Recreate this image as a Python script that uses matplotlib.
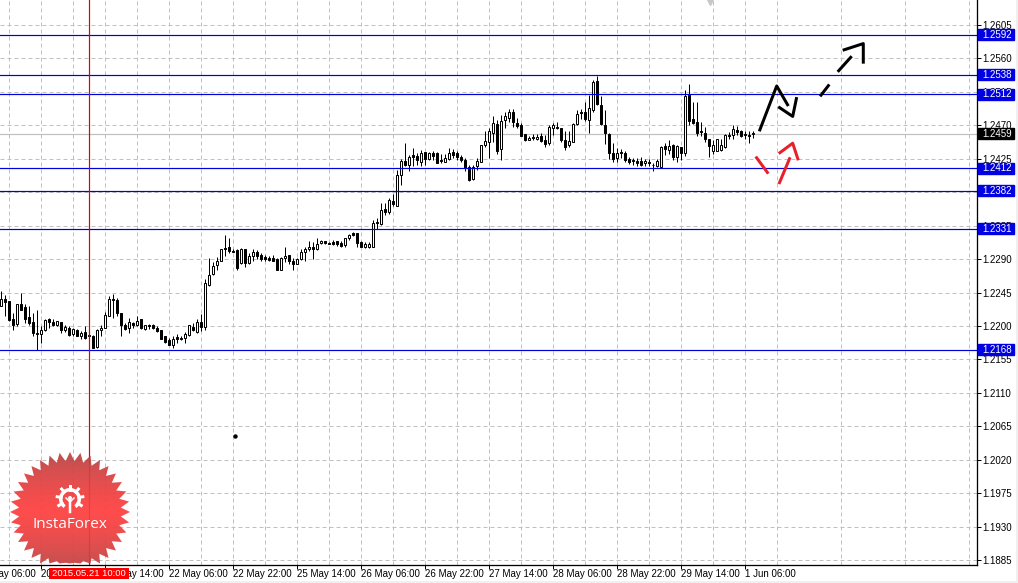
import numpy as np
import matplotlib
matplotlib.use("Agg")
import matplotlib.pyplot as plt
from matplotlib.patches import Rectangle, Polygon, Circle, Wedge
from matplotlib.transforms import blended_transform_factory

plt.rcParams['font.family'] = ['Liberation Sans', 'DejaVu Sans']

# hourly candles, prices in pips (1/10000)
opens = [12227,12237,12234,12210,12203,12229,12225,12212,12206,12191,
         12189,12194,12209,12206,12201,12206,12194,12197,12189,12194,
         12186,12192,12188,12187,12172,12194,12197,12214,12237,12235,
         12217,12202,12198,12204,12202,12209,12196,12201,12201,12198,
         12194,12186,12181,12174,12185,12184,12184,12188,12199,12192,
         12206,12199,12255,12270,12282,12288,12305,12306,12301,12302,
         12285,12304,12285,12294,12299,12295,12293,12291,12291,12290,
         12276,12292,12295,12288,12284,12290,12300,12304,12307,12303,
         12312,12314,12312,12313,12314,12312,12309,12319,12325,12325,
         12313,12306,12307,12306,12340,12337,12357,12353,12368,12362,
         12403,12422,12417,12430,12429,12421,12434,12425,12433,12433,
         12423,12421,12425,12434,12433,12427,12424,12414,12398,12415,
         12421,12444,12447,12460,12472,12438,12477,12480,12488,12473,
         12471,12458,12450,12454,12451,12455,12450,12446,12466,12468,
         12467,12450,12443,12447,12472,12488,12488,12477,12491,12529,
         12498,12471,12459,12433,12426,12434,12433,12425,12424,12422,
         12422,12419,12421,12417,12415,12414,12442,12437,12443,12427,
         12441,12433,12511,12478,12475,12462,12460,12452,12435,12436,
         12437,12441,12457,12457,12464,12463,12458,12457,12460]
highs = [12247,12242,12234,12218,12229,12245,12229,12227,12218,12221,
         12200,12210,12211,12210,12207,12206,12201,12200,12197,12196,
         12193,12200,12188,12188,12196,12202,12219,12241,12243,12238,
         12217,12204,12211,12206,12213,12210,12202,12203,12203,12200,
         12194,12187,12184,12186,12189,12187,12192,12202,12204,12209,
         12216,12263,12292,12286,12293,12304,12322,12318,12304,12304,
         12305,12304,12298,12304,12302,12298,12295,12294,12295,12291,
         12293,12307,12295,12291,12291,12303,12306,12314,12313,12319,
         12316,12315,12313,12316,12315,12314,12319,12324,12327,12325,
         12315,12313,12313,12342,12345,12365,12365,12372,12377,12410,
         12425,12446,12430,12439,12433,12437,12434,12434,12435,12434,
         12432,12431,12439,12438,12435,12430,12426,12417,12417,12426,
         12444,12462,12466,12483,12477,12484,12488,12492,12492,12480,
         12473,12459,12456,12459,12459,12460,12457,12471,12473,12475,
         12467,12462,12462,12473,12491,12492,12502,12511,12531,12536,
         12509,12491,12460,12446,12439,12438,12435,12427,12426,12426,
         12427,12425,12425,12419,12425,12442,12446,12450,12445,12443,
         12441,12517,12526,12502,12502,12475,12468,12452,12450,12452,
         12451,12458,12461,12470,12469,12464,12463,12463,12462]
lows = [12227,12213,12207,12195,12200,12221,12204,12202,12186,12168,
        12177,12193,12197,12200,12200,12190,12192,12186,12187,12186,
        12182,12183,12186,12170,12171,12187,12197,12213,12211,12213,
        12187,12194,12191,12197,12200,12196,12195,12196,12196,12192,
        12182,12177,12174,12171,12177,12181,12177,12187,12193,12191,
        12193,12195,12254,12269,12276,12287,12294,12298,12299,12276,
        12284,12280,12283,12288,12290,12288,12288,12288,12287,12276,
        12276,12286,12283,12276,12283,12289,12288,12301,12290,12302,
        12311,12311,12310,12309,12308,12307,12307,12316,12321,12307,
        12306,12305,12305,12306,12331,12336,12349,12351,12362,12361,
        12390,12415,12409,12415,12417,12415,12417,12424,12423,12420,
        12420,12421,12424,12426,12423,12421,12408,12395,12397,12410,
        12421,12441,12426,12448,12432,12423,12467,12475,12468,12467,
        12455,12449,12450,12450,12450,12448,12441,12444,12457,12465,
        12448,12437,12441,12447,12471,12478,12476,12460,12488,12497,
        12471,12445,12425,12421,12421,12426,12421,12418,12417,12415,
        12415,12415,12415,12409,12414,12412,12430,12432,12424,12421,
        12424,12429,12470,12472,12455,12456,12448,12428,12431,12435,
        12436,12440,12451,12452,12457,12454,12452,12446,12453]
closes = [12237,12233,12208,12201,12229,12222,12209,12204,12190,12189,
          12195,12208,12205,12201,12207,12194,12199,12188,12196,12186,
          12191,12184,12186,12170,12195,12197,12215,12236,12235,12217,
          12201,12196,12205,12201,12207,12197,12201,12200,12198,12193,
          12183,12178,12175,12183,12183,12183,12189,12201,12194,12206,
          12199,12258,12269,12281,12288,12303,12304,12301,12300,12278,
          12304,12285,12294,12299,12294,12290,12290,12289,12288,12276,
          12292,12294,12287,12284,12290,12299,12304,12307,12304,12311,
          12315,12312,12311,12310,12311,12308,12319,12322,12323,12312,
          12307,12311,12311,12339,12338,12356,12353,12369,12364,12403,
          12422,12416,12428,12428,12423,12433,12425,12433,12429,12420,
          12422,12426,12433,12430,12428,12424,12413,12396,12414,12422,
          12443,12449,12462,12473,12436,12476,12482,12488,12474,12469,
          12456,12450,12453,12453,12454,12449,12445,12468,12470,12467,
          12450,12441,12449,12472,12485,12486,12478,12493,12528,12499,
          12472,12460,12433,12425,12433,12433,12423,12421,12422,12420,
          12416,12422,12419,12416,12422,12441,12438,12442,12427,12442,
          12433,12509,12476,12473,12460,12461,12452,12442,12443,12452,
          12443,12457,12455,12465,12461,12456,12457,12456,12459]

levels = [1.2592, 1.2538, 1.2512, 1.2412, 1.2382, 1.2331, 1.2168]
last_price = 1.2459
price_ticks = [1.1885, 1.1930, 1.1975, 1.2020, 1.2065, 1.2110, 1.2155, 1.2200, 1.2245,
               1.2290, 1.2335, 1.2380, 1.2425, 1.2470, 1.2515, 1.2560, 1.2605]
time_labels = ["20 May 06:00", "20 May 22:00", "21 May 14:00", "22 May 06:00", "22 May 22:00",
               "25 May 14:00", "26 May 06:00", "26 May 22:00", "27 May 14:00", "28 May 06:00",
               "28 May 22:00", "29 May 14:00", "1 Jun 06:00"]
cursor_bar = 22
cursor_label = "2015.05.21 10:00"

# hand drawn forecast strokes: (bar, price in pips)
black_strokes = [[(189.5, 12462), (193.85, 12523), (196.75, 12496)],
                 [(194.25, 12495), (197.85, 12482), (198.85, 12508)],
                 [(204.7, 12509), (207.0, 12525)],
                 [(209.1, 12542), (212.6, 12563)],
                 [(210.35, 12571), (215.5, 12580), (215.5, 12553)]]
red_strokes = [[(188.6, 12428), (191.75, 12405)],
               [(194.4, 12391), (197.2, 12427)],
               [(194.35, 12432), (197.85, 12446), (199.25, 12423)]]

W, H = 1018, 583
PX = 1 / 100 * 72  # one pixel in points
axis_x, axis_y = 976.7, 564.5
bar_px = 4.0
y_scale = 7433.0  # pixels per 1.0 of price

fig = plt.figure(figsize=(W / 100, H / 100), dpi=100, facecolor='white')
ax = fig.add_axes([0, (H - axis_y) / H, axis_x / W, axis_y / H])
ax.set_xlim(-1.3 / bar_px, (axis_x - 1.3) / bar_px)
ax.set_ylim(1.2605 - (axis_y - 25) / y_scale, 1.2605 + 25 / y_scale)

o = np.array(opens) / 1e4
h = np.array(highs) / 1e4
l = np.array(lows) / 1e4
c = np.array(closes) / 1e4
x = np.arange(len(o))

#---------------- grid, ticks
label_bars = np.arange(-6, 190, 16)
major = label_bars[1:]
ax.set_xticks(major)
ax.set_xticks(np.arange(2, 244, 16), minor=True)
ax.set_xticklabels([])
ax.tick_params(axis='x', which='major', length=4 * PX, width=PX, color='black')
ax.tick_params(axis='x', which='minor', length=0)
ax.yaxis.tick_right()
ax.set_yticks(price_ticks)
ax.set_yticklabels(["%.4f" % p for p in price_ticks], fontsize=7, color='black')
ax.tick_params(axis='y', length=4 * PX, width=PX, pad=1, color='black')
ax.grid(True, which='both', color='#c0c0c0', lw=PX, ls=(0, (4, 3)), zorder=0)
ax.set_axisbelow(True)
for s in ['top', 'left']:
    ax.spines[s].set_visible(False)
for s in ['right', 'bottom']:
    ax.spines[s].set_linewidth(1.3 * PX)

xform = blended_transform_factory(ax.transData, ax.transAxes)
for b, t in zip(label_bars, time_labels):
    ax.text(b - 0.1, -9.5 / axis_y, t, transform=xform, fontsize=7, ha='left', va='center', clip_on=False)

#---------------- candles
ax.axhline(last_price, color='#c0c0c0', lw=PX * 1.2, zorder=1)
ax.vlines(x, l, h, color='black', lw=PX, zorder=2)
up = c >= o
ax.bar(x[up], (c - o)[up], bottom=o[up], width=0.55, facecolor='white', edgecolor='black', lw=PX, zorder=3)
ax.bar(x[~up], (o - c)[~up], bottom=c[~up], width=0.55, facecolor='black', edgecolor='black', lw=PX, zorder=3)

#---------------- levels, cursor
for lv in levels:
    ax.axhline(lv, color='#0000d8', lw=PX * 1.2, zorder=4)
ax.axvline(cursor_bar, color='#e00000', lw=PX * 1.2, zorder=4)

for s in black_strokes:
    p = np.array(s)
    ax.plot(p[:, 0], p[:, 1] / 1e4, color='black', lw=3 * PX, solid_capstyle='butt', zorder=5)
for s in red_strokes:
    p = np.array(s)
    ax.plot(p[:, 0], p[:, 1] / 1e4, color='#e8202c', lw=3 * PX, solid_capstyle='butt', zorder=5)

ax.plot([58.4], [1.2052], 'o', color='black', ms=3 * PX, zorder=5)
ax.plot([177.2], [1.2636], 'v', color='#c8c8c8', ms=6 * PX, zorder=5, clip_on=True)

#---------------- price boxes on the scale
yform = blended_transform_factory(ax.transAxes, ax.transData)
box_x = 978.0 / axis_x
box_w = 36.0 / axis_x
box_h = 11.0 / y_scale
for lv, col in [(v, '#0000e0') for v in levels] + [(last_price, 'black')]:
    ax.add_patch(Rectangle((box_x, lv - box_h / 2), box_w, box_h, transform=yform, color=col, clip_on=False, zorder=6))
    ax.text(982.5 / axis_x, lv, "%.4f" % lv, transform=yform, color='white', fontsize=7,
            ha='left', va='center', clip_on=False, zorder=7)

#---------------- overlay in pixels: logo, cursor label, window edges
ov = fig.add_axes([0, 0, 1, 1], facecolor='none')
ov.set_xlim(0, W)
ov.set_ylim(H, 0)
ov.axis('off')

cx, cy = 70, 512
n_teeth = 36
ang = np.linspace(0, 2 * np.pi, 2 * n_teeth, endpoint=False)
rad = np.where(np.arange(2 * n_teeth) % 2 == 0, 60, 51)
star = np.column_stack([cx + rad * np.cos(ang), np.minimum(cy + rad * np.sin(ang), axis_y - 1)])
grad = np.abs(np.linspace(-1, 1, 256))[:, None] ** 1.3
rgb = np.zeros((256, 1, 4))
rgb[..., 0] = (255 - 75 * grad) / 255
rgb[..., 1] = (62 + 6 * grad) / 255
rgb[..., 2] = (62 + 6 * grad) / 255
rgb[..., 3] = 0.93
im = ov.imshow(rgb, extent=(cx - 62, cx + 62, cy + 62, cy - 62), aspect='auto', zorder=1)
clip = Polygon(star, closed=True, transform=ov.transData, facecolor='none', edgecolor='none')
ov.add_patch(clip)
im.set_clip_path(clip)
ov.set_xlim(0, W)
ov.set_ylim(H, 0)

# gear
gx, gy = 70, 499
ov.add_patch(Wedge((gx, gy), 11, 125, 55, width=3.5, color='white', lw=0, zorder=2))
for a in np.deg2rad(np.arange(-30, 240, 40)):
    ov.plot([gx + 9 * np.cos(a + np.pi), gx + 13 * np.cos(a + np.pi)],
            [gy + 9 * np.sin(a + np.pi), gy + 13 * np.sin(a + np.pi)], color='white', lw=3 * PX, zorder=2)
ov.add_patch(Circle((gx, gy - 1), 2, color='white', lw=0, zorder=2))
ov.plot([gx, gx], [gy + 1, gy + 13], color='white', lw=2.5 * PX, zorder=2)
ov.plot([gx - 4, gx, gx + 4], [gy - 1, gy + 3, gy - 1], color='white', lw=1.5 * PX, zorder=2)
ov.text(cx, 525, "InstaForex", color='white', fontsize=11, ha='center', va='center',
        family=['Open Sans', 'DejaVu Sans'], zorder=3)

ov.add_patch(Rectangle((49, 568), 80, 11, color='#ff0000', lw=0, zorder=4))
ov.text(89, 573.5, cursor_label, color='white', fontsize=6.8, ha='center', va='center', zorder=5)
ov.add_patch(Rectangle((0, 581), W, 2, color='#f0f0f0', lw=0, zorder=6))
ov.add_patch(Rectangle((1016, 0), 2, H, color='#f0f0f0', lw=0, zorder=6))

fig.savefig("out.png", dpi=100)
